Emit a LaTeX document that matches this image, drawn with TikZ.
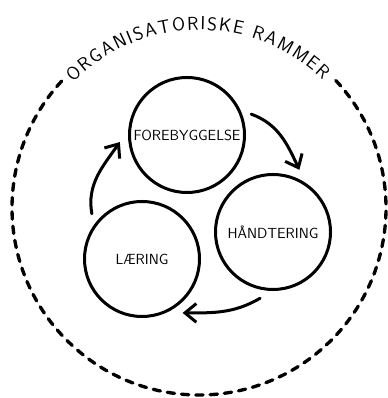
\documentclass[tikz,border=0pt]{standalone}
\usepackage{tikz}
\usetikzlibrary{arrows.meta,decorations.text}

\begin{document}
\begin{tikzpicture}[x=0.03cm,y=0.03cm,>={Straight Barb[length=3.4mm,width=5.6mm]},
  every node/.style={font=\sffamily\fontsize{12.5}{14}\selectfont},
  phase/.style={circle,draw,line width=0.09cm,minimum size=3.45cm,inner sep=0pt,outer sep=0.3cm},
  flow/.style={->,line width=0.09cm,line cap=round}]
  \useasboundingbox (0,0) rectangle (387,398);

  % outer frame, open at the top for the title
  \coordinate (mid) at (199,190);
  \draw[line width=0.1cm,dash pattern=on 0.22cm off 0.21cm,line cap=round]
    ([shift={(43:187)}]mid) arc[start angle=43,end angle=-223,radius=187];
  \begin{scope}
    \sffamily\fontsize{16}{18}\selectfont
    \path[decorate,decoration={text along path,text align=fit to path,
        text={ORGANISATORISKE RAMMER}}]
      ([shift={(135:178)}]mid) arc[start angle=135,end angle=46,radius=178];
  \end{scope}

  % the three phases
  \node[phase] (fore) at (187,263) {FOREBYGGELSE};
  \node[phase] (handt) at (273,166) {HÅNDTERING};
  \node[phase] (laering) at (142,139) {LÆRING};

  \draw[flow] (fore.18) to[out=-20,in=115] (handt.67);
  \draw[flow] (handt.-101) to[out=-150,in=0] (laering.-53);
  \draw[flow] (laering.138) to[out=100,in=-125] (fore.186);
\end{tikzpicture}
\end{document}
